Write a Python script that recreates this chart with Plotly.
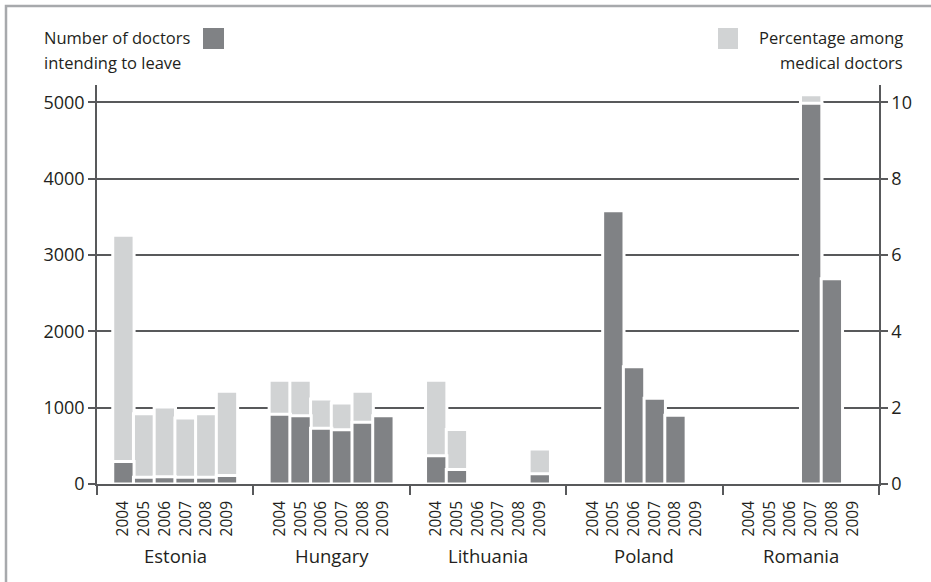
import plotly.graph_objects as go

# ---- data ----
countries = ["Estonia", "Hungary", "Lithuania", "Poland", "Romania"]
years = ["2004", "2005", "2006", "2007", "2008", "2009"]

# Number of doctors intending to leave (left axis)
doctors_estonia = [295, 90, 95, 90, 90, 110]
doctors_hungary = [915, 895, 730, 710, 810, 895]
doctors_lithuania = [370, 190, None, None, None, 135]
doctors_poland = [None, 3580, 1535, 1125, 900, None]
doctors_romania = [None, None, None, 4990, 2690, None]

# Percentage among medical doctors (right axis)
pct_estonia = [6.52, 1.84, 2.02, 1.73, 1.84, 2.43]
pct_hungary = [2.72, 2.72, 2.23, 2.12, 2.43, None]
pct_lithuania = [2.72, 1.43, None, None, None, 0.92]
pct_poland = [None, None, None, None, None, None]
pct_romania = [None, None, None, 10.2, None, None]

left_ticks = [0, 1000, 2000, 3000, 4000, 5000]
right_ticks = [0, 2, 4, 6, 8, 10]

# ---- styling ----
DARK = "#808285"
LIGHT = "#d1d3d4"
AXIS = "#58595b"
TEXT = "#231f20"
FRAME = "#a7a9ac"
FONT = "Open Sans"

doctors = doctors_estonia + doctors_hungary + doctors_lithuania + doctors_poland + doctors_romania
pct = pct_estonia + pct_hungary + pct_lithuania + pct_poland + pct_romania

G = 7.55  # group pitch in bar units
pad = (G - (len(years) - 1)) / 2
xs = [g * G + j for g in range(len(countries)) for j in range(len(years))]
dividers = [g * G - pad for g in range(len(countries) + 1)]
xrange_ = [dividers[0], dividers[-1]]
centers = [g * G + (len(years) - 1) / 2 for g in range(len(countries))]

L_MAX = 5229
R_MAX = L_MAX / 500.0

fig = go.Figure()
fig.add_bar(x=xs, y=pct, xaxis="x", yaxis="y", width=1.03,
            marker=dict(color=LIGHT, line=dict(color="white", width=3)),
            hoverinfo="skip", showlegend=False)
fig.add_bar(x=xs, y=doctors, xaxis="x", yaxis="y2", width=1.03,
            marker=dict(color=DARK, line=dict(color="white", width=3)),
            hoverinfo="skip", showlegend=False)
fig.add_scatter(x=[dividers[0]], y=[0], xaxis="x2", yaxis="y", mode="markers",
                marker=dict(opacity=0), hoverinfo="skip", showlegend=False)

fig.update_layout(
    width=931, height=582,
    margin=dict(l=97, r=52, t=85, b=98),
    paper_bgcolor="white", plot_bgcolor="white",
    barmode="overlay",
    font=dict(family=FONT, color=TEXT),
    xaxis=dict(range=xrange_, tickmode="array", tickvals=xs, ticktext=years * len(countries),
               tickangle=-90, ticks="outside", ticklen=9, tickcolor="rgba(0,0,0,0)",
               tickfont=dict(size=15.5, color=TEXT), showline=True, linecolor=AXIS, linewidth=1.5,
               showgrid=False, zeroline=False, anchor="y", fixedrange=True),
    xaxis2=dict(range=xrange_, overlaying="x", anchor="y", tickmode="array", tickvals=dividers,
                ticks="outside", ticklen=10, tickwidth=1.5, tickcolor=AXIS,
                showticklabels=False, showgrid=False, zeroline=False, showline=False),
    yaxis=dict(range=[0, R_MAX], side="right", tickmode="array", tickvals=right_ticks,
               ticks="outside", ticklen=7, tickwidth=1.5, tickcolor=AXIS,
               showline=True, linecolor=AXIS, linewidth=1.5,
               showgrid=True, gridcolor=AXIS, gridwidth=1.5, zeroline=False,
               tickfont=dict(size=18, color=TEXT), anchor="x"),
    yaxis2=dict(range=[0, L_MAX], overlaying="y", side="left", tickmode="array", tickvals=left_ticks,
                ticks="outside", ticklen=7, tickwidth=1.5, tickcolor=AXIS,
                showline=True, linecolor=AXIS, linewidth=1.5,
                showgrid=False, zeroline=False,
                tickfont=dict(size=18, color=TEXT), anchor="x"),
)

# country labels
for c, cx in zip(countries, centers):
    fig.add_annotation(x=cx, xref="x", y=-0.178, yref="paper", text=c, showarrow=False,
                       xanchor="center", yanchor="middle", font=dict(size=18.5, color=TEXT))

PL, PR, PT, PB = 97, 879, 85, 484


def px(xp):
    return (xp - PL) / (PR - PL)


def py(yp):
    return (PB - yp) / (PB - PT)


# header texts
HF = dict(size=16.5, color=TEXT)
fig.add_annotation(x=px(42), y=py(37), xref="paper", yref="paper", text="Number of doctors",
                   showarrow=False, xanchor="left", yanchor="middle", font=HF)
fig.add_annotation(x=px(42), y=py(63), xref="paper", yref="paper", text="intending to leave",
                   showarrow=False, xanchor="left", yanchor="middle", font=HF)
fig.add_annotation(x=px(905), y=py(37), xref="paper", yref="paper", text="Percentage among",
                   showarrow=False, xanchor="right", yanchor="middle", font=HF)
fig.add_annotation(x=px(905), y=py(63), xref="paper", yref="paper", text="medical doctors",
                   showarrow=False, xanchor="right", yanchor="middle", font=HF)

# legend swatches
fig.add_shape(type="rect", xref="paper", yref="paper", x0=px(203), x1=px(224), y0=py(49), y1=py(28),
              fillcolor=DARK, line=dict(width=0))
fig.add_shape(type="rect", xref="paper", yref="paper", x0=px(718), x1=px(738), y0=py(49), y1=py(28),
              fillcolor=LIGHT, line=dict(width=0))

# frame
fig.add_shape(type="rect", xref="paper", yref="paper", x0=px(6), x1=px(960), y0=py(600), y1=py(6),
              fillcolor="rgba(0,0,0,0)", line=dict(color=FRAME, width=2.5), layer="below")

fig.write_html("out.html", config={"displayModeBar": False},
               post_script="document.body.style.margin='0px';")
